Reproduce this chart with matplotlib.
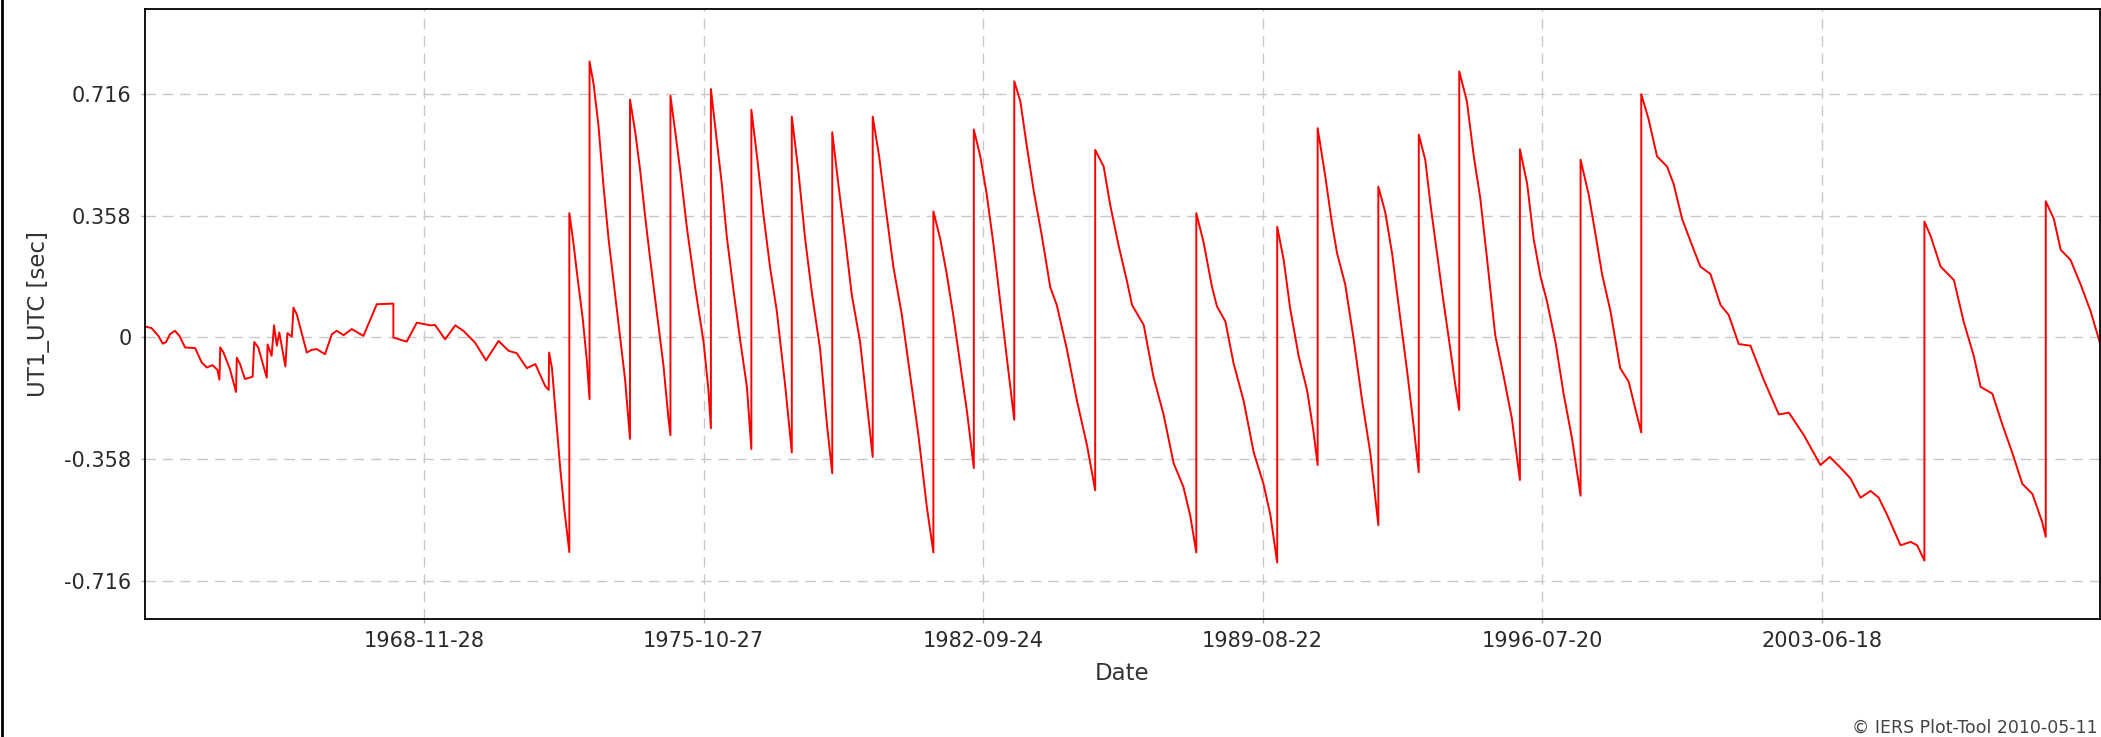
import numpy as np
import matplotlib
matplotlib.use("Agg")
import matplotlib.pyplot as plt
import matplotlib.dates as mdates
from matplotlib.lines import Line2D

# UT1-UTC [s], time as decimal year
# (a repeated year marks a leap second step)
years = [
    1962.03, 1962.17, 1962.34, 1962.45, 1962.53, 1962.63, 1962.75, 1962.86,
    1963.00, 1963.25, 1963.41, 1963.54, 1963.68, 1963.80, 1963.85, 1963.87,
    1963.95, 1964.11, 1964.26, 1964.28, 1964.36, 1964.48, 1964.67, 1964.71,
    1964.81, 1965.02, 1965.04, 1965.14, 1965.20, 1965.27, 1965.33, 1965.48,
    1965.53, 1965.64, 1965.68, 1965.76, 1966.01, 1966.13, 1966.26, 1966.46,
    1966.63, 1966.75, 1966.92, 1967.12, 1967.41, 1967.74, 1968.15, 1968.15,
    1968.48, 1968.73, 1969.06, 1969.18, 1969.43, 1969.68, 1969.88, 1970.17,
    1970.44, 1970.75, 1971.00, 1971.20, 1971.45, 1971.66, 1971.90, 1971.99,
    1972.00, 1972.07, 1972.17, 1972.27, 1972.37, 1972.50,
    1972.50, 1972.60, 1972.70, 1972.83, 1972.93, 1973.00,
    1973.00, 1973.10, 1973.22, 1973.34, 1973.47, 1973.59, 1973.76, 1973.88, 1974.00,
    1974.00, 1974.13, 1974.25, 1974.37, 1974.50, 1974.66, 1974.83, 1974.95, 1975.00,
    1975.00, 1975.12, 1975.24, 1975.41, 1975.61, 1975.82, 1975.94, 1976.00,
    1976.00, 1976.15, 1976.27, 1976.39, 1976.56, 1976.72, 1976.89, 1977.00,
    1977.00, 1977.14, 1977.30, 1977.46, 1977.63, 1977.84, 1978.00,
    1978.00, 1978.16, 1978.33, 1978.50, 1978.70, 1978.87, 1979.00,
    1979.00, 1979.15, 1979.32, 1979.48, 1979.69, 1979.86, 1980.00,
    1980.00, 1980.16, 1980.31, 1980.51, 1980.72, 1980.93, 1981.13, 1981.34, 1981.50,
    1981.50, 1981.67, 1981.83, 1981.99, 1982.16, 1982.33, 1982.50,
    1982.50, 1982.66, 1982.82, 1982.99, 1983.15, 1983.32, 1983.50,
    1983.50, 1983.65, 1983.81, 1983.98, 1984.18, 1984.39, 1984.55, 1984.80,
    1985.05, 1985.30, 1985.50,
    1985.50, 1985.71, 1985.87, 1986.08, 1986.28, 1986.41, 1986.70, 1986.94,
    1987.19, 1987.44, 1987.68, 1987.85, 1988.00,
    1988.00, 1988.18, 1988.39, 1988.51, 1988.72, 1988.92, 1989.17, 1989.42,
    1989.66, 1989.83, 1990.00,
    1990.00, 1990.16, 1990.32, 1990.53, 1990.74, 1990.90, 1991.00,
    1991.00, 1991.19, 1991.35, 1991.48, 1991.68, 1991.89, 1992.10, 1992.30, 1992.50,
    1992.50, 1992.67, 1992.84, 1993.00, 1993.21, 1993.37, 1993.50,
    1993.50, 1993.66, 1993.79, 1993.95, 1994.11, 1994.28, 1994.40, 1994.50,
    1994.50, 1994.69, 1994.86, 1995.02, 1995.19, 1995.39, 1995.60, 1995.80, 1996.00,
    1996.00, 1996.18, 1996.34, 1996.51, 1996.67, 1996.88, 1997.08, 1997.29, 1997.50,
    1997.50, 1997.70, 1997.86, 1998.03, 1998.24, 1998.40, 1998.48, 1998.69,
    1998.85, 1999.00,
    1999.00, 1999.18, 1999.39, 1999.64, 1999.80, 2000.01, 2000.26, 2000.46,
    2000.71, 2000.96, 2001.16, 2001.41, 2001.70, 2002.03, 2002.40, 2002.65,
    2003.02, 2003.43, 2003.66, 2003.92, 2004.17, 2004.42, 2004.67, 2004.87,
    2005.08, 2005.41, 2005.66, 2005.82, 2006.00,
    2006.00, 2006.15, 2006.40, 2006.73, 2006.97, 2007.22, 2007.39, 2007.68,
    2007.93, 2008.17, 2008.42, 2008.67, 2008.91, 2009.00,
    2009.00, 2009.20, 2009.37, 2009.61, 2009.86, 2010.11, 2010.36,
]
ut1_utc = [
    0.031, 0.027, 0.004, -0.019, -0.014, 0.009, 0.019, 0.004,
    -0.030, -0.032, -0.074, -0.089, -0.082, -0.096, -0.125, -0.030,
    -0.045, -0.094, -0.161, -0.060, -0.079, -0.123, -0.116, -0.014,
    -0.030, -0.119, -0.021, -0.055, 0.035, -0.025, 0.014, -0.086,
    0.012, 0.002, 0.087, 0.068, -0.045, -0.037, -0.035, -0.050,
    0.009, 0.019, 0.006, 0.024, 0.004, 0.097, 0.099, -0.001,
    -0.013, 0.043, 0.035, 0.036, -0.006, 0.035, 0.019, -0.016,
    -0.068, -0.011, -0.040, -0.047, -0.091, -0.079, -0.143, -0.155,
    -0.045, -0.090, -0.235, -0.379, -0.500, -0.632,
    0.365, 0.279, 0.178, 0.056, -0.065, -0.182,
    0.811, 0.745, 0.623, 0.451, 0.289, 0.168, -0.005, -0.126, -0.299,
    0.699, 0.603, 0.492, 0.360, 0.228, 0.076, -0.086, -0.238, -0.288,
    0.710, 0.603, 0.492, 0.319, 0.147, -0.015, -0.157, -0.268,
    0.730, 0.573, 0.451, 0.299, 0.137, -0.005, -0.146, -0.329,
    0.669, 0.532, 0.360, 0.208, 0.076, -0.146, -0.339,
    0.649, 0.492, 0.289, 0.127, -0.035, -0.258, -0.400,
    0.603, 0.451, 0.289, 0.127, -0.015, -0.200, -0.352,
    0.649, 0.532, 0.390, 0.208, 0.066, -0.116, -0.288, -0.501, -0.633,
    0.370, 0.289, 0.186, 0.066, -0.076, -0.218, -0.385,
    0.611, 0.532, 0.420, 0.269, 0.107, -0.065, -0.243,
    0.753, 0.694, 0.562, 0.431, 0.299, 0.147, 0.095, -0.035,
    -0.187, -0.319, -0.450,
    0.551, 0.502, 0.390, 0.269, 0.168, 0.095, 0.036, -0.116,
    -0.227, -0.371, -0.440, -0.525, -0.633,
    0.365, 0.279, 0.147, 0.091, 0.046, -0.076, -0.187, -0.339,
    -0.431, -0.522, -0.663,
    0.325, 0.228, 0.085, -0.055, -0.157, -0.280, -0.376,
    0.615, 0.472, 0.338, 0.247, 0.156, -0.005, -0.187, -0.339, -0.553,
    0.443, 0.368, 0.247, 0.095, -0.098, -0.258, -0.397,
    0.596, 0.522, 0.390, 0.247, 0.105, -0.035, -0.138, -0.214,
    0.782, 0.694, 0.532, 0.409, 0.228, 0.006, -0.116, -0.238, -0.420,
    0.553, 0.451, 0.289, 0.178, 0.105, -0.015, -0.166, -0.299, -0.466,
    0.522, 0.420, 0.309, 0.186, 0.076, -0.035, -0.091, -0.131,
    -0.209, -0.280,
    0.715, 0.642, 0.532, 0.502, 0.451, 0.348, 0.269, 0.208,
    0.186, 0.095, 0.066, -0.020, -0.025, -0.126, -0.227, -0.222,
    -0.288, -0.376, -0.352, -0.383, -0.415, -0.472, -0.452, -0.472,
    -0.523, -0.612, -0.602, -0.612, -0.657,
    0.340, 0.299, 0.208, 0.168, 0.046, -0.055, -0.146, -0.166,
    -0.258, -0.339, -0.431, -0.461, -0.543, -0.587,
    0.400, 0.348, 0.257, 0.228, 0.156, 0.076, -0.025,
]

x_ticks = ["1968-11-28", "1975-10-27", "1982-09-24", "1989-08-22", "1996-07-20", "2003-06-18"]
y_ticks = [-0.716, -0.358, 0, 0.358, 0.716]
y_tick_labels = ["-0.716", "-0.358", "0", "0.358", "0.716"]
x_range = ["1962-01-01", "2010-05-01"]
y_range = [-0.83, 0.967]

# decimal year -> matplotlib date number
t0 = mdates.datestr2num("1962-01-01")
t = t0 + (np.array(years) - 1962.0) * 365.25

W, H = 2101, 737
fig = plt.figure(figsize=(W / 100, H / 100), dpi=100)
left, right, top, bottom = 144.6, 2099.5, 8.5, 619.4
ax = fig.add_axes([left / W, 1 - bottom / H, (right - left) / W, (bottom - top) / H])

ax.plot(t, ut1_utc, color="#ff0000", linewidth=1.4)

ax.set_xlim(mdates.datestr2num(x_range[0]), mdates.datestr2num(x_range[1]))
ax.set_ylim(y_range)
ax.set_xticks([mdates.datestr2num(d) for d in x_ticks])
ax.set_xticklabels(x_ticks)
ax.set_yticks(y_ticks)
ax.set_yticklabels(y_tick_labels)

ax.grid(True, color="#c8c8c8", linestyle=(0, (7.5, 5)), linewidth=1.0)
ax.tick_params(axis="both", length=3, width=1, color="#aaaaaa",
               labelsize=15, labelcolor="#2a2a2a")
ax.tick_params(axis="y", pad=6.5)
ax.tick_params(axis="x", pad=5)
for sp in ax.spines.values():
    sp.set_color("black")
    sp.set_linewidth(1.3)

ax.set_xlabel("Date", fontsize=16.5, color="#333333")
ax.xaxis.set_label_coords(0.5, -0.07)
ax.set_ylabel("UT1_UTC [sec]", fontsize=16.5, color="#333333")
ax.yaxis.set_label_coords(-0.0485, 0.5)

fig.text(2098 / W, 1 - 728 / H, "© IERS Plot-Tool 2010-05-11", ha="right",
         va="center", fontsize=12.5, color="#444444")
# black border down the left side of the image
fig.add_artist(Line2D([0.0008, 0.0008], [0, 1], transform=fig.transFigure,
                      color="black", linewidth=2))

fig.savefig("out.png", dpi=100)
